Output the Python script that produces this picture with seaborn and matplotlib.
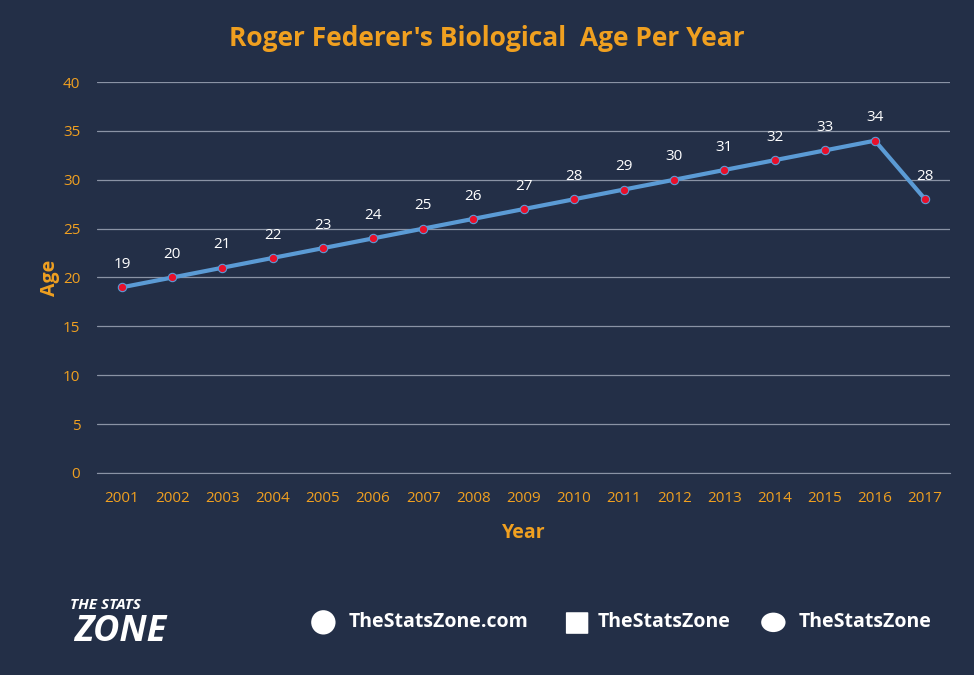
import matplotlib
matplotlib.use("Agg")
import matplotlib.pyplot as plt
import seaborn as sns
import pandas as pd
from matplotlib.patches import Ellipse, FancyBboxPatch

years = list(range(2001, 2018))
ages = [19, 20, 21, 22, 23, 24, 25, 26, 27, 28, 29, 30, 31, 32, 33, 34, 28]
y_ticks = [0, 5, 10, 15, 20, 25, 30, 35, 40]

bg = "#232f47"
orange = "#f0a020"
df = pd.DataFrame({"Year": years, "Age": ages})

sns.set_style("dark")
plt.rcParams["font.family"] = ["Open Sans", "DejaVu Sans"]

fig = plt.figure(figsize=(9.74, 6.75), dpi=100, facecolor=bg)
ax = fig.add_axes([0.0996, 0.2993, 0.876, 0.5792], facecolor=bg)

sns.lineplot(data=df, x="Year", y="Age", ax=ax, color="#5b9bd5", linewidth=3,
             marker="o", markersize=6, markerfacecolor="#e8102a",
             markeredgecolor="#5b9bd5", markeredgewidth=0.8, zorder=3)

for x, y in zip(years, ages):
    ax.annotate(str(y), (x, y), xytext=(0, 11), textcoords="offset points",
                ha="center", va="bottom", color="white", fontsize=11)

ax.set_xlim(2000.5, 2017.5)
ax.set_ylim(0, 40)
ax.set_yticks(y_ticks)
ax.set_xticks(years)
ax.set_xticklabels([str(y) for y in years])
ax.grid(axis="y", color="#8a93a5", linewidth=0.9)
ax.grid(axis="x", visible=False)
for s in ["top", "right", "left"]:
    ax.spines[s].set_visible(False)
ax.spines["bottom"].set_color("#8a93a5")
ax.tick_params(colors=orange, labelsize=11, length=0)
ax.tick_params(axis="x", pad=13)
ax.tick_params(axis="y", pad=12)
ax.set_xlabel("Year", color=orange, fontsize=14, fontweight="bold", labelpad=12)
ax.set_ylabel("Age", color=orange, fontsize=14, fontweight="bold", labelpad=2)

fig.text(0.5, 0.943, "Roger Federer's Biological  Age Per Year", ha="center", va="center",
         color=orange, fontsize=19, fontweight="bold")

# footer
fig.text(0.108, 0.104, "THE STATS", ha="center", va="center", color="white",
         fontsize=11, fontweight="bold", style="italic")
fig.text(0.123, 0.063, "ZONE", ha="center", va="center", color="white",
         fontsize=26, fontweight="bold", style="italic")
r = 0.025
fig.patches.append(Ellipse((0.332, 0.078), r, r * 974 / 675, transform=fig.transFigure,
                           facecolor="white", edgecolor="none"))
fig.text(0.358, 0.078, "TheStatsZone.com", va="center", color="white", fontsize=14, fontweight="bold")
fig.patches.append(FancyBboxPatch((0.582, 0.062), 0.021, 0.030, boxstyle="round,pad=0.001",
                                  transform=fig.transFigure, facecolor="white", edgecolor="none"))
fig.text(0.614, 0.078, "TheStatsZone", va="center", color="white", fontsize=14, fontweight="bold")
fig.patches.append(Ellipse((0.794, 0.078), r, r * 974 / 675 * 0.8, transform=fig.transFigure,
                           facecolor="white", edgecolor="none"))
fig.text(0.820, 0.078, "TheStatsZone", va="center", color="white", fontsize=14, fontweight="bold")

fig.savefig("out.png", dpi=100, facecolor=bg)
